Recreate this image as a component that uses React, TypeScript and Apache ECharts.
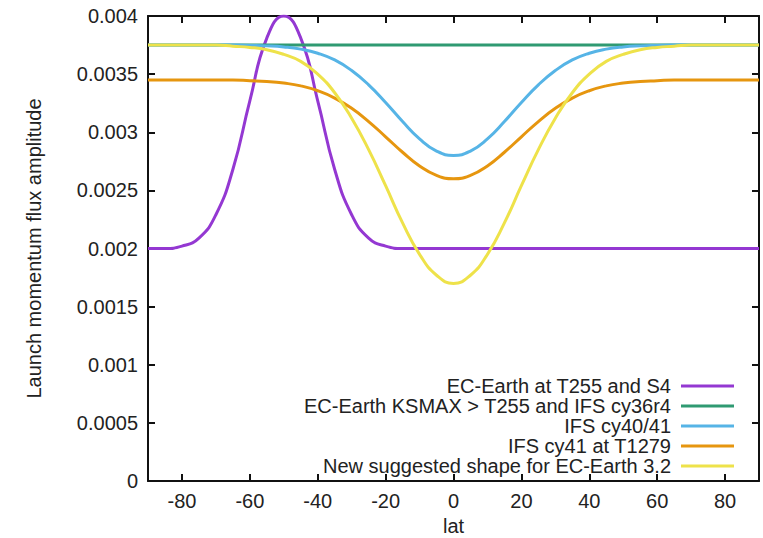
import React, { useEffect, useRef } from "react";
import * as echarts from "echarts";

const lat = [-90, -85, -80, -75, -70, -65, -60, -55, -50, -45, -40, -35, -30, -25, -20, -15, -10, -5, 0, 5, 10, 15, 20, 25, 30, 35, 40, 45, 50, 55, 60, 65, 70, 75, 80, 85, 90];

const ecEarthT255 = [0.002, 0.002, 0.00202, 0.00209, 0.00229, 0.00268, 0.00327, 0.00381, 0.004, 0.00381, 0.00327, 0.00268, 0.00229, 0.00209, 0.00202, 0.002, 0.002, 0.002, 0.002, 0.002, 0.002, 0.002, 0.002, 0.002, 0.002, 0.002, 0.002, 0.002, 0.002, 0.002, 0.002, 0.002, 0.002, 0.002, 0.002, 0.002, 0.002];
const ecEarthKsmax = [0.00375, 0.00375, 0.00375, 0.00375, 0.00375, 0.00375, 0.00375, 0.00375, 0.00375, 0.00375, 0.00375, 0.00375, 0.00375, 0.00375, 0.00375, 0.00375, 0.00375, 0.00375, 0.00375, 0.00375, 0.00375, 0.00375, 0.00375, 0.00375, 0.00375, 0.00375, 0.00375, 0.00375, 0.00375, 0.00375, 0.00375, 0.00375, 0.00375, 0.00375, 0.00375, 0.00375, 0.00375];
const ifsCy4041 = [0.00375, 0.00375, 0.00375, 0.00375, 0.00375, 0.00375, 0.003747, 0.003743, 0.003734, 0.003715, 0.00368, 0.003622, 0.003531, 0.003408, 0.003256, 0.003092, 0.002943, 0.002838, 0.0028, 0.002838, 0.002943, 0.003092, 0.003256, 0.003408, 0.003531, 0.003622, 0.00368, 0.003715, 0.003734, 0.003743, 0.003747, 0.00375, 0.00375, 0.00375, 0.00375, 0.00375, 0.00375];
const ifsCy41T1279 = [0.00345, 0.00345, 0.00345, 0.00345, 0.00345, 0.00345, 0.003444, 0.003437, 0.003423, 0.003399, 0.003357, 0.003294, 0.003206, 0.003092, 0.002961, 0.002828, 0.00271, 0.002629, 0.0026, 0.002629, 0.00271, 0.002828, 0.002961, 0.003092, 0.003206, 0.003294, 0.003357, 0.003399, 0.003423, 0.003437, 0.003444, 0.00345, 0.00345, 0.00345, 0.00345, 0.00345, 0.00345];
const newSuggested = [0.00375, 0.00375, 0.00375, 0.00375, 0.00375, 0.00374, 0.00373, 0.00371, 0.00367, 0.00361, 0.0035, 0.00334, 0.00312, 0.00285, 0.00254, 0.00222, 0.00195, 0.00177, 0.0017, 0.00177, 0.00195, 0.00222, 0.00254, 0.00285, 0.00312, 0.00334, 0.0035, 0.00361, 0.00367, 0.00371, 0.00373, 0.00374, 0.00375, 0.00375, 0.00375, 0.00375, 0.00375];

const seriesNames = [
  "EC-Earth at T255 and S4",
  "EC-Earth KSMAX > T255 and IFS cy36r4",
  "IFS cy40/41",
  "IFS cy41 at T1279",
  "New suggested shape for EC-Earth 3.2",
];
const seriesValues = [ecEarthT255, ecEarthKsmax, ifsCy4041, ifsCy41T1279, newSuggested];
const colors = ["#9438d2", "#2f9a72", "#56b4e6", "#e6960f", "#eee24a"];

const xTicks = [-80, -60, -40, -20, 0, 20, 40, 60, 80];

const FONT = "Liberation Sans, Arial, Helvetica, sans-serif";

export default function App() {
  const ref = useRef<HTMLDivElement>(null);
  useEffect(() => {
    if (!ref.current) return;
    const chart = echarts.init(ref.current, undefined, { renderer: "svg" });
    const axisLine = { show: true, onZero: false, lineStyle: { color: "#111", width: 2 } };
    const tick = { show: true, inside: true, length: 7, lineStyle: { color: "#111", width: 2 } };
    chart.setOption({
      animation: false,
      backgroundColor: "#ffffff",
      grid: { left: 148, right: 4, top: 16, bottom: 57, show: false, outerBoundsMode: "none", containLabel: false },
      legend: {
        orient: "vertical",
        align: "right",
        right: 24,
        top: 371,
        icon: "rect",
        itemWidth: 53,
        itemHeight: 3,
        itemGap: 0,
        textStyle: { fontFamily: FONT, fontSize: 20, color: "#222", lineHeight: 19.5, padding: [0, 5, 0, 0] },
        data: seriesNames,
      },
      xAxis: [
        {
          type: "value",
          min: -90,
          max: 90,
          position: "bottom",
          name: "lat",
          nameLocation: "middle",
          nameGap: 35,
          nameTextStyle: { fontFamily: FONT, fontSize: 20, color: "#222", lineHeight: 20 },
          axisLine,
          axisTick: { ...tick, customValues: xTicks },
          axisLabel: { customValues: xTicks, fontFamily: FONT, fontSize: 20, color: "#222", margin: 10 },
          splitLine: { show: false },
        },
        {
          type: "value",
          min: -90,
          max: 90,
          position: "top",
          axisLine,
          axisTick: { ...tick, customValues: xTicks },
          axisLabel: { show: false, customValues: xTicks },
          splitLine: { show: false },
        },
      ],
      yAxis: [
        {
          type: "value",
          min: 0,
          max: 0.004,
          interval: 0.0005,
          position: "left",
          name: "Launch momentum flux amplitude",
          nameLocation: "middle",
          nameGap: 104,
          nameTextStyle: { fontFamily: FONT, fontSize: 20, color: "#222" },
          axisLine,
          axisTick: tick,
          axisLabel: {
            fontFamily: FONT,
            fontSize: 20,
            color: "#222",
            margin: 10,
            formatter: (v: number) => String(+v.toFixed(4)),
          },
          splitLine: { show: false },
        },
        {
          type: "value",
          min: 0,
          max: 0.004,
          interval: 0.0005,
          position: "right",
          axisLine,
          axisTick: tick,
          axisLabel: { show: false },
          splitLine: { show: false },
        },
      ],
      series: seriesNames.map((name, i) => ({
        name,
        type: "line",
        xAxisIndex: 0,
        yAxisIndex: 0,
        smooth: 0.5,
        symbol: "none",
        showSymbol: false,
        color: colors[i],
        lineStyle: { color: colors[i], width: 3 },
        data: lat.map((x, j) => [x, seriesValues[i][j]]),
      })),
    });
    return () => chart.dispose();
  }, []);
  return (
    <div
      ref={ref}
      style={{ position: "fixed", left: 0, top: 0, width: 763, height: 538, background: "#fff" }}
    />
  );
}
